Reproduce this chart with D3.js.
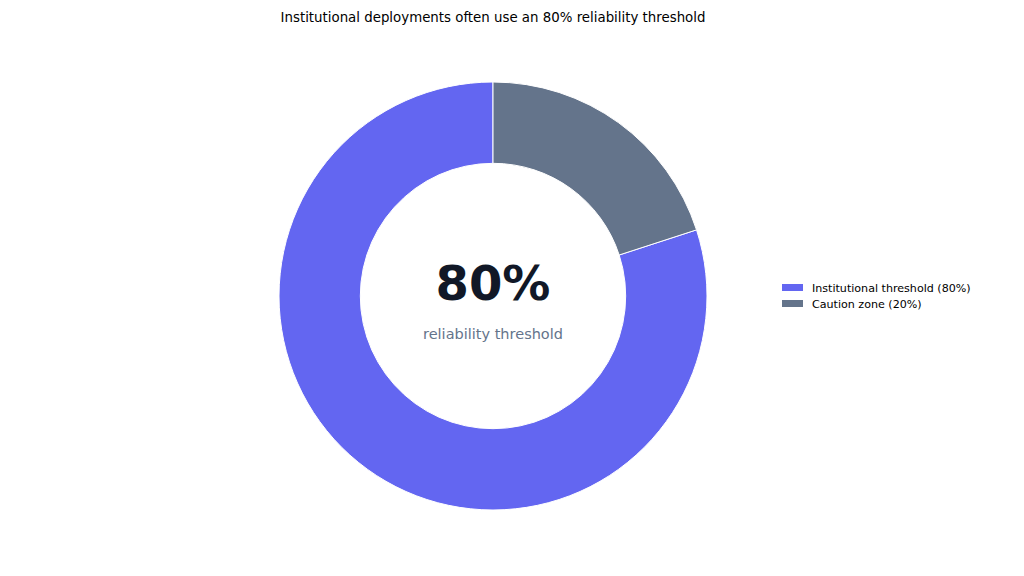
<!DOCTYPE html>
<html>
<head>
<meta charset="utf-8">
<script src="https://cdn.jsdelivr.net/npm/d3@7"></script>
<style>
  body { margin: 0; background: #fff; }
  svg { display: block; font-family: "DejaVu Sans", sans-serif; }
</style>
</head>
<body>
<div id="chart"></div>
<script>
const categories = ["Institutional threshold (80%)", "Caution zone (20%)"];
const values = [80, 20];
const colors = ["#6366f1", "#64748b"];
const title = "Institutional deployments often use an 80% reliability threshold";
const centerValue = "80%";
const centerLabel = "reliability threshold";

const width = 1024;
const height = 576;
const cx = 493;
const cy = 296;
const outerR = 214;
const innerR = outerR * 0.62;

const svg = d3.select("#chart")
  .append("svg")
  .attr("width", width)
  .attr("height", height);

svg.append("text")
  .attr("x", cx)
  .attr("y", 22)
  .attr("text-anchor", "middle")
  .attr("font-size", 13.35)
  .attr("fill", "#000")
  .text(title);

// counter-clockwise from 12 o'clock, like matplotlib startangle=90
const pie = d3.pie().sort(null).startAngle(0).endAngle(-2 * Math.PI);
const arc = d3.arc().innerRadius(innerR).outerRadius(outerR);

const g = svg.append("g").attr("transform", `translate(${cx},${cy})`);

g.selectAll("path")
  .data(pie(values))
  .join("path")
  .attr("d", arc)
  .attr("fill", (d, i) => colors[i])
  .attr("stroke", "#fff")
  .attr("stroke-width", 1);

g.append("text")
  .attr("y", 4)
  .attr("text-anchor", "middle")
  .attr("font-size", 48)
  .attr("font-weight", "bold")
  .attr("fill", "#111827")
  .text(centerValue);

g.append("text")
  .attr("y", 43)
  .attr("text-anchor", "middle")
  .attr("font-size", 14.5)
  .attr("fill", "#64748b")
  .text(centerLabel);

const legend = svg.append("g").attr("transform", "translate(782,284)");
const items = legend.selectAll("g")
  .data(categories)
  .join("g")
  .attr("transform", (d, i) => `translate(0,${i * 16})`);

items.append("rect")
  .attr("width", 21)
  .attr("height", 7)
  .attr("fill", (d, i) => colors[i]);

items.append("text")
  .attr("x", 30)
  .attr("y", 8)
  .attr("font-size", 11.1)
  .attr("fill", "#000")
  .text((d) => d);
</script>
</body>
</html>
